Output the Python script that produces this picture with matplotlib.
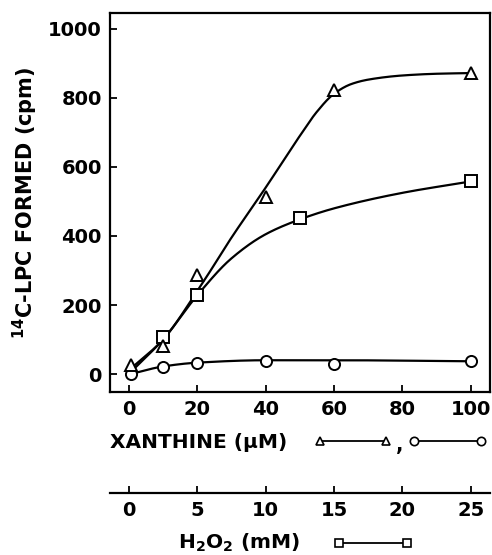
import numpy as np
import matplotlib.pyplot as plt
from matplotlib.lines import Line2D

# measured points (x in uM xanthine; H2O2 squares placed at 4*mM)
tri_x = [0.5, 10, 20, 40, 60, 100]
tri_y = [25, 80, 288, 514, 823, 872]

sq_mM = [2.5, 5, 12.5, 25]
sq_y = [106, 230, 453, 560]

circ_x = [0.5, 10, 20, 40, 60, 100]
circ_y = [0, 21, 33, 38, 30, 38]

# hand-drawn curves
tri_fit_x = [0.5, 10, 20, 30, 40, 50, 55, 60, 65, 70, 80, 90, 100]
tri_fit_y = [15, 100, 240, 395, 540, 690, 760, 812, 840, 853, 865, 870, 872]

sq_fit_x = [0.5, 10, 20, 30, 40, 50, 60, 80, 100]
sq_fit_y = [5, 100, 228, 335, 405, 448, 480, 525, 558]

circ_fit_x = [0.5, 10, 20, 40, 60, 100]
circ_fit_y = [0, 22, 33, 40, 40, 37]

xan_ticks = [0, 20, 40, 60, 80, 100]
h2o2_ticks = [0, 5, 10, 15, 20, 25]
y_ticks = [0, 200, 400, 600, 800, 1000]


def pchip(xk, yk, xs):
    xk = np.asarray(xk, float)
    yk = np.asarray(yk, float)
    h = np.diff(xk)
    d = np.diff(yk) / h
    m = np.zeros_like(yk)
    m[0], m[-1] = d[0], d[-1]
    for k in range(1, len(xk) - 1):
        if d[k - 1] * d[k] > 0:
            w1 = 2 * h[k] + h[k - 1]
            w2 = h[k] + 2 * h[k - 1]
            m[k] = (w1 + w2) / (w1 / d[k - 1] + w2 / d[k])
    i = np.clip(np.searchsorted(xk, xs) - 1, 0, len(h) - 1)
    t = (xs - xk[i]) / h[i]
    h00 = 2 * t**3 - 3 * t**2 + 1
    h10 = t**3 - 2 * t**2 + t
    h01 = -2 * t**3 + 3 * t**2
    h11 = t**3 - t**2
    return h00 * yk[i] + h10 * h[i] * m[i] + h01 * yk[i + 1] + h11 * h[i] * m[i + 1]


plt.rcParams["font.family"] = "DejaVu Sans"
plt.rcParams["font.weight"] = "bold"
plt.rcParams["mathtext.default"] = "bf"

fig = plt.figure(figsize=(4.92, 5.55), dpi=100)
W, H = 492, 555
ax = fig.add_axes([110 / W, 1 - 392 / H, 380 / W, 379 / H])

xs = np.linspace(0.5, 100, 400)
ax.plot(xs, pchip(tri_fit_x, tri_fit_y, xs), color="black", lw=1.6)
ax.plot(xs, pchip(sq_fit_x, sq_fit_y, xs), color="black", lw=1.6)
ax.plot(xs, pchip(circ_fit_x, circ_fit_y, xs), color="black", lw=1.6)

mk = dict(ls="none", mfc="white", mec="black", mew=1.4, color="black")
ax.plot(circ_x, circ_y, marker="o", ms=8, **mk)
ax.plot([4 * v for v in sq_mM], sq_y, marker="s", ms=8, **mk)
ax.plot(tri_x, tri_y, marker="^", ms=8, **mk)

ax.set_xlim(-5.5, 105.6)
ax.set_ylim(-52, 1046)
ax.set_xticks(xan_ticks)
ax.set_yticks(y_ticks)
ax.tick_params(direction="in", length=5, width=1.3, labelsize=14, pad=6)
for s in ax.spines.values():
    s.set_linewidth(1.6)
fig.text(25 / W, 1 - 203 / H, "$^{14}$C-LPC FORMED (cpm)", fontsize=15, rotation=90,
         ha="center", va="center")

# second scale for H2O2
ax2 = fig.add_axes([110 / W, 1 - 493 / H, 380 / W, 0.001])
ax2.set_xlim(-5.5 / 4, 105.6 / 4)
ax2.set_xticks(h2o2_ticks)
ax2.set_yticks([])
for side in ["top", "left", "right"]:
    ax2.spines[side].set_visible(False)
ax2.spines["bottom"].set_linewidth(1.6)
ax2.patch.set_visible(False)
ax2.tick_params(axis="x", direction="in", length=5, width=1.3, labelsize=14, pad=6)

# axis titles with symbol keys
fig.text(110 / W, 1 - 442 / H, "XANTHINE (\u03bcM)", fontsize=14.5, va="center", ha="left")
fig.text(178 / W, 1 - 543 / H, "H$_2$O$_2$ (mM)", fontsize=14.5, va="center", ha="left")


def key(x0, x1, y, marker):
    fig.add_artist(Line2D([x0 / W, x1 / W], [1 - y / H, 1 - y / H], color="black", lw=1.3,
                          marker=marker, ms=6, mfc="white", mec="black", mew=1.2))


key(320, 386, 441, "^")
fig.text(400 / W, 1 - 445 / H, ",", fontsize=14, va="center", ha="center")
key(414, 481, 441, "o")
key(339, 407, 543, "s")

fig.savefig("out.png", dpi=100)
